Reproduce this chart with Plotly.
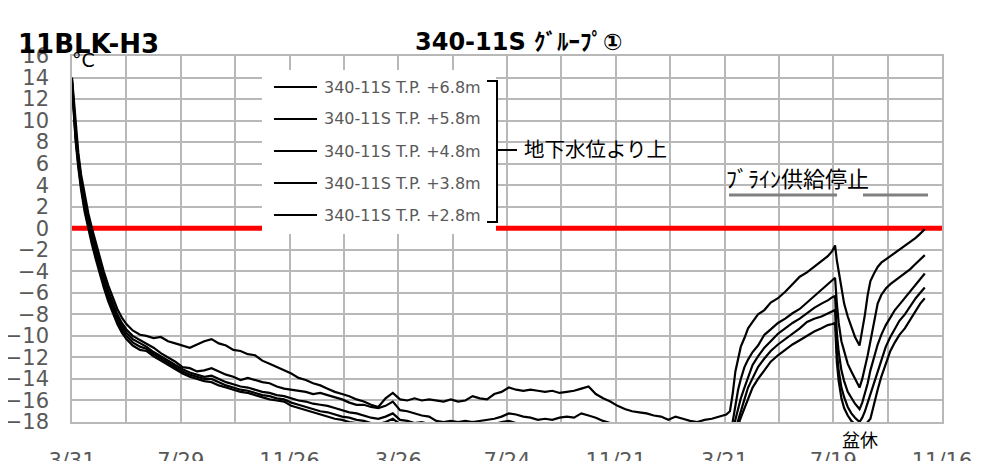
import pandas as pd
import plotly.graph_objects as go

# ---------------- data ----------------
start_date = "2017-03-31"

days = [0, 2, 4, 7, 10, 14, 18, 22, 26, 30, 35, 40, 45, 50, 55, 60, 67, 75,
        82, 90, 98, 106, 114, 122, 130, 138, 146, 154,
        162, 170, 178, 186, 194, 202, 210, 218, 226, 234,
        242, 250, 258, 266, 274, 282, 290, 298, 306, 314,
        322, 330, 338, 346, 354, 362, 370, 378, 386, 394,
        402, 410, 418, 426, 434, 442, 450, 458, 466, 474,
        482, 490, 498, 506, 514, 522, 530, 538, 546, 554,
        562, 570, 578, 586, 594, 602, 610, 618, 626, 634,
        642, 650, 658, 666, 674, 682, 690, 698, 706, 714,
        722,
        726, 729, 732, 735, 738, 742, 746, 751, 757, 764,
        771, 779, 787, 795, 803, 811, 819, 827, 834, 839,
        842, 844, 846, 849, 852, 856, 860, 864, 869, 872,
        875, 878, 881, 885, 889, 893, 898, 903, 908, 913,
        919, 925, 931, 936, 941]

series_names = ["340-11S T.P. +6.8m", "340-11S T.P. +5.8m", "340-11S T.P. +4.8m",
                "340-11S T.P. +3.8m", "340-11S T.P. +2.8m"]

temp_68 = [14.0, 11.8, 9.5, 7.0, 5.0, 3.0, 1.4, 0.0, -1.3, -2.6, -4.0, -5.3, -6.5, -7.5, -8.3, -8.9, -9.5, -9.9,
           -10.0, -10.2, -10.1, -10.5, -10.7, -10.9, -11.1, -10.8, -10.5, -10.3,
           -10.7, -10.9, -11.3, -11.4, -11.7, -11.8, -12.3, -12.6, -12.9, -13.2,
           -13.5, -13.9, -14.1, -14.4, -14.6, -14.9, -15.2, -15.4, -15.6, -15.9,
           -16.1, -16.4, -16.6, -15.8, -15.3, -15.9, -16.0, -15.8, -16.0, -15.9,
           -16.0, -16.1, -15.9, -16.1, -16.0, -15.6, -15.8, -15.9, -15.4, -15.2,
           -14.8, -15.0, -15.1, -15.0, -15.1, -15.2, -15.1, -15.3, -15.2, -15.1,
           -14.9, -14.7, -15.4, -15.8, -16.1, -16.5, -16.8, -17.0, -17.1, -17.2,
           -17.4, -17.5, -17.8, -17.5, -17.7, -17.9, -18.0, -17.8, -17.7, -17.5,
           -17.3,
           -17.0, -15.4, -13.3, -12.0, -11.0, -10.2, -9.3, -8.7, -8.0, -7.6,
           -6.9, -6.5, -5.9, -5.2, -4.5, -4.1, -3.6, -3.1, -2.6, -2.1,
           -1.6, -3.0, -4.0, -5.7, -7.0, -8.2, -9.2, -10.1, -10.9, -9.6,
           -8.0, -6.2, -4.9, -4.2, -3.6, -3.2, -2.9, -2.6, -2.3, -2.0,
           -1.6, -1.3, -0.9, -0.5, -0.1]

temp_58 = [13.8, 11.4, 9.1, 6.6, 4.6, 2.5, 0.9, -0.5, -1.8, -3.1, -4.5, -5.8, -7.0, -8.0, -8.8, -9.4, -10.0, -10.4,
           -10.7, -11.1, -11.6, -12.0, -12.4, -12.9, -13.0, -13.3, -13.2, -13.0,
           -13.3, -13.6, -13.8, -14.1, -13.9, -14.1, -14.3, -14.4, -14.7, -14.9,
           -15.0, -15.1, -15.2, -15.4, -15.3, -15.5, -15.7, -15.9, -16.2, -16.4,
           -16.4, -16.6, -16.7, -16.5, -16.1, -16.9, -17.0, -17.2, -17.4, -17.5,
           -17.9, -18.0, -17.9, -18.0, -17.9, -18.0, -17.9, -17.8, -17.7, -17.5,
           -17.2, -17.3, -17.5, -17.6, -17.8, -17.7, -17.8, -17.6, -17.5, -17.6,
           -17.2, -17.4, -17.6, -17.9, -18.1, -18.3, -18.5, -18.7, -18.9, -19.0,
           -19.0, -19.0, -19.0, -19.0, -19.0, -19.0, -19.0, -19.0, -19.0, -18.9,
           -18.7,
           -18.6, -18.0, -16.4, -15.0, -14.0, -12.9, -12.2, -11.5, -10.9, -9.9,
           -9.4, -8.8, -8.4, -7.9, -7.5, -6.9, -6.3, -5.7, -5.2, -4.8,
           -4.6, -7.0, -8.8, -10.5, -11.5, -12.6, -13.3, -14.0, -14.8, -14.0,
           -13.0, -11.8, -10.5, -8.8, -7.0, -6.2, -5.6, -5.2, -4.9, -4.6,
           -4.2, -3.8, -3.3, -2.9, -2.5]

temp_48 = [13.6, 11.0, 8.7, 6.2, 4.2, 2.1, 0.5, -0.9, -2.2, -3.5, -4.9, -6.2, -7.3, -8.3, -9.1, -9.7, -10.3, -10.7,
           -11.0, -11.5, -11.9, -12.3, -12.7, -13.1, -13.4, -13.6, -13.8, -13.7,
           -14.0, -14.3, -14.5, -14.7, -14.8, -15.0, -15.2, -15.3, -15.5, -15.6,
           -15.8, -16.0, -16.1, -16.3, -16.4, -16.5, -16.7, -16.9, -17.1, -17.2,
           -17.4, -17.6, -17.7, -17.5, -17.2, -17.8, -17.9, -18.1, -18.0, -18.2,
           -18.3, -18.2, -18.4, -18.3, -18.2, -18.0, -18.2, -18.3, -18.2, -18.0,
           -17.9, -18.1, -18.3, -18.4, -18.5, -18.6, -18.7, -18.8, -18.9, -19.0,
           -19.0, -19.0, -19.0, -19.0, -19.0, -19.0, -19.0, -19.0, -19.0, -19.0,
           -19.0, -19.0, -19.0, -19.0, -19.0, -19.0, -19.0, -19.0, -19.0, -19.0,
           -19.0,
           -19.0, -19.0, -17.8, -16.8, -15.8, -14.8, -13.9, -12.7, -11.9, -11.1,
           -10.5, -9.8, -9.3, -8.8, -8.4, -7.9, -7.4, -7.0, -6.7, -6.4,
           -6.3, -9.8, -11.5, -13.2, -14.2, -15.2, -15.8, -16.3, -16.8, -16.2,
           -15.3, -14.4, -13.2, -12.0, -10.8, -9.9, -9.0, -8.3, -7.6, -7.1,
           -6.5, -5.8, -5.2, -4.7, -4.2]

temp_38 = [13.4, 10.7, 8.4, 5.9, 3.9, 1.8, 0.2, -1.2, -2.5, -3.8, -5.2, -6.5, -7.6, -8.6, -9.4, -10.0, -10.6, -11.0,
           -11.2, -11.7, -12.1, -12.5, -12.9, -13.3, -13.6, -13.8, -14.0, -14.0,
           -14.3, -14.6, -14.8, -15.0, -15.1, -15.3, -15.5, -15.6, -15.8, -15.9,
           -16.2, -16.4, -16.6, -16.8, -17.0, -17.1, -17.3, -17.5, -17.6, -17.8,
           -17.9, -18.1, -18.2, -18.0, -17.7, -18.2, -18.3, -18.5, -18.4, -18.6,
           -18.6, -18.5, -18.7, -18.8, -18.7, -18.6, -18.8, -18.9, -18.8, -18.7,
           -18.6, -18.8, -19.0, -19.1, -19.2, -19.3, -19.4, -19.5, -19.5, -19.5,
           -19.5, -19.5, -19.5, -19.5, -19.5, -19.5, -19.5, -19.5, -19.5, -19.5,
           -19.5, -19.5, -19.5, -19.5, -19.5, -19.5, -19.5, -19.5, -19.5, -19.5,
           -19.5,
           -19.5, -19.5, -18.7, -17.8, -16.9, -15.9, -14.8, -13.9, -12.9, -12.1,
           -11.4, -10.8, -10.3, -9.8, -9.3, -8.7, -8.4, -8.2, -7.9, -7.7,
           -7.6, -11.5, -13.2, -14.8, -15.7, -16.6, -17.2, -17.6, -18.0, -17.6,
           -17.0, -16.2, -15.4, -14.5, -13.3, -12.2, -11.0, -10.1, -9.3, -8.6,
           -8.0, -7.2, -6.5, -6.0, -5.5]

temp_28 = [13.2, 10.4, 8.1, 5.6, 3.6, 1.5, -0.1, -1.5, -2.8, -4.1, -5.5, -6.8, -7.9, -8.9, -9.7, -10.3, -10.9, -11.3,
           -11.4, -11.9, -12.3, -12.7, -13.1, -13.5, -13.8, -14.0, -14.2, -14.3,
           -14.6, -14.8, -15.0, -15.2, -15.3, -15.5, -15.7, -15.9, -16.0, -16.1,
           -16.5, -16.7, -16.9, -17.1, -17.3, -17.5, -17.7, -17.8, -18.0, -18.1,
           -18.2, -18.4, -18.5, -18.3, -18.1, -18.6, -18.4, -18.6, -18.5, -18.7,
           -18.9, -18.8, -19.0, -19.1, -19.0, -18.9, -19.1, -19.2, -19.1, -19.0,
           -19.0, -19.2, -19.4, -19.5, -19.6, -19.7, -19.8, -19.9, -20.0, -20.0,
           -20.0, -20.0, -20.0, -20.0, -20.0, -20.0, -20.0, -20.0, -20.0, -20.0,
           -20.0, -20.0, -20.0, -20.0, -20.0, -20.0, -20.0, -20.0, -20.0, -20.0,
           -20.0,
           -20.0, -20.0, -19.8, -18.3, -17.6, -16.7, -15.8, -14.8, -14.0, -13.2,
           -12.4, -11.8, -11.3, -10.8, -10.4, -10.0, -9.6, -9.3, -9.0, -8.9,
           -8.8, -12.5, -14.2, -15.8, -16.7, -17.4, -17.9, -18.2, -18.5, -18.4,
           -18.2, -18.0, -17.7, -16.3, -15.0, -13.8, -12.5, -11.4, -10.6, -9.9,
           -9.3, -8.5, -7.6, -7.0, -6.5]

all_series = [temp_68, temp_58, temp_48, temp_38, temp_28]
for s in all_series:
    assert len(s) == len(days), len(s)

tick_labels = ["3/31", "7/29", "11/26", "3/26", "7/24", "11/21", "3/21", "7/19", "11/16"]
freeze_line_value = 0
y_range = [-18, 16]

# ---------------- layout helpers ----------------
# the page body adds an 8px margin, so the figure is placed 8px right/down
OFF = 8
VIEW_W, VIEW_H = 985, 461
W, H = VIEW_W - OFF, VIEW_H - OFF
PLOT_L, PLOT_R, PLOT_T, PLOT_B = 72, 942, 56, 422   # page pixels
PW, PH = PLOT_R - PLOT_L, PLOT_B - PLOT_T
ML, MT = PLOT_L - OFF, PLOT_T - OFF
MR, MB = W - (PLOT_R - OFF), H - (PLOT_B - OFF)


def fx(px):
    return (px - PLOT_L) / PW


def fy(py):
    return (PLOT_B - py) / PH


start = pd.Timestamp(start_date)
dates = start + pd.to_timedelta(days, unit="D")
grid_vals = [start + pd.Timedelta(days=d) for d in range(0, 961, 60)]
grid_text = []
for i in range(len(grid_vals)):
    grid_text.append(tick_labels[i // 2] if i % 2 == 0 else "")

GRID = "#b8b8b8"
TICK_FONT = dict(family="DejaVu Sans", size=21, color="#595959")

fig = go.Figure()
# red 0 line (drawn first, below the data)
fig.add_trace(go.Scatter(x=[grid_vals[0], grid_vals[-1]],
                         y=[freeze_line_value, freeze_line_value],
                         mode="lines", line=dict(color="#ff0000", width=5),
                         showlegend=False, hoverinfo="skip"))
for name, vals in zip(series_names, all_series):
    fig.add_trace(go.Scatter(x=dates, y=vals, mode="lines", name=name,
                             line=dict(color="black", width=2.2),
                             showlegend=False, hoverinfo="skip"))

shapes = []
# white legend box
shapes.append(dict(type="rect", xref="paper", yref="paper",
                   x0=fx(262), x1=fx(496), y0=fy(234), y1=fy(70),
                   fillcolor="white", line=dict(width=0), layer="above"))

annotations = []
legend_y = [87, 119, 151, 183, 215]
for name, py in zip(series_names, legend_y):
    shapes.append(dict(type="line", xref="paper", yref="paper",
                       x0=fx(274), x1=fx(317), y0=fy(py), y1=fy(py),
                       line=dict(color="black", width=2), layer="above"))
    annotations.append(dict(text=name, xref="paper", yref="paper",
                            x=fx(322), y=fy(py), xanchor="left", yanchor="middle",
                            showarrow=False,
                            font=dict(family="DejaVu Sans", size=16, color="#595959")))

# bracket
bx0, bx1, bxm = 487, 497, 517
by0, by1, bym = 81, 222, 150
path = (f"M{fx(bx0)},{fy(by0)} L{fx(bx1)},{fy(by0)} L{fx(bx1)},{fy(by1)} L{fx(bx0)},{fy(by1)} "
        f"M{fx(bx1)},{fy(bym)} L{fx(bxm)},{fy(bym)}")
shapes.append(dict(type="path", xref="paper", yref="paper", path=path,
                   line=dict(color="black", width=2), layer="above"))

annotations.append(dict(text="地下水位より上", xref="paper", yref="paper",
                        x=fx(522), y=fy(148), xanchor="left", yanchor="middle",
                        showarrow=False,
                        font=dict(family="Noto Sans CJK JP", size=20.5, color="black")))

# brine stop
annotations.append(dict(text="ﾌﾞﾗｲﾝ供給停止", xref="paper", yref="paper",
                        x=fx(724), y=fy(177), xanchor="left", yanchor="middle",
                        showarrow=False,
                        font=dict(family="Noto Sans CJK JP", size=22, color="black")))
for a, b in [(729, 837), (863, 928)]:
    shapes.append(dict(type="line", xref="paper", yref="paper",
                       x0=fx(a), x1=fx(b), y0=fy(195), y1=fy(195),
                       line=dict(color="#808080", width=3), layer="above"))

annotations.append(dict(text="盆休", xref="paper", yref="paper",
                        x=fx(860), y=fy(439), xanchor="center", yanchor="middle",
                        showarrow=False,
                        font=dict(family="Noto Sans CJK JP", size=18, color="black")))

annotations.append(dict(text="°C", xref="paper", yref="paper",
                        x=fx(70), y=fy(60), xanchor="left", yanchor="middle",
                        showarrow=False,
                        font=dict(family="DejaVu Sans", size=19, color="black")))

annotations.append(dict(text="<b>11BLK-H3</b>", xref="paper", yref="paper",
                        x=fx(16), y=fy(44), xanchor="left", yanchor="middle",
                        showarrow=False,
                        font=dict(family="DejaVu Sans", size=26, color="black")))

annotations.append(dict(text="<b>340-11S <span style='font-size:23px'>ｸﾞﾙｰﾌﾟ①</span></b>",
                        xref="paper", yref="paper",
                        x=fx(413), y=fy(42), xanchor="left", yanchor="middle",
                        showarrow=False,
                        font=dict(family="DejaVu Sans, Noto Sans CJK JP", size=24, color="black")))

fig.update_layout(
    width=W, height=H,
    margin=dict(l=ML, r=MR, t=MT, b=MB, pad=0, autoexpand=False),
    paper_bgcolor="white", plot_bgcolor="white",
    shapes=shapes, annotations=annotations,
    xaxis=dict(type="date", range=[grid_vals[0], grid_vals[-1]],
               tickmode="array", tickvals=grid_vals, ticktext=grid_text,
               showgrid=True, gridcolor=GRID, gridwidth=1.5,
               showline=True, linecolor=GRID, linewidth=1.5, mirror=True,
               ticks="", tickfont=TICK_FONT, ticklabelstandoff=19,
               zeroline=False, fixedrange=True, automargin=False),
    yaxis=dict(range=y_range, tickmode="linear", tick0=0, dtick=2,
               showgrid=True, gridcolor=GRID, gridwidth=1.5,
               showline=True, linecolor=GRID, linewidth=1.5, mirror=True,
               ticks="", tickfont=TICK_FONT, ticklabelstandoff=17,
               zeroline=False, fixedrange=True, automargin=False),
    showlegend=False,
)

fig.write_html("out.html")
